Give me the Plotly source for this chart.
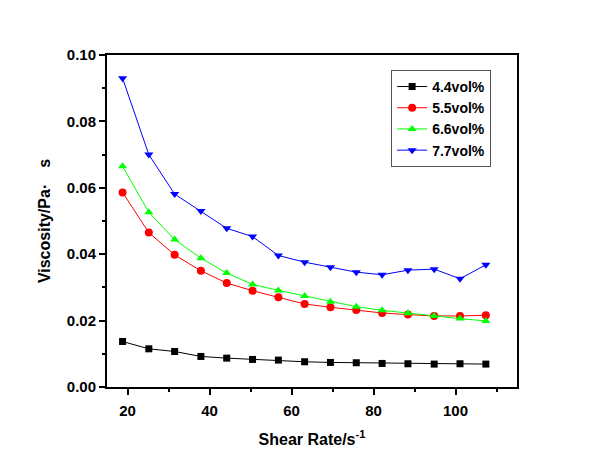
import plotly.graph_objects as go

shear_rate = [18.8, 25.2, 31.5, 37.9, 44.2, 50.5, 56.8, 63.2, 69.5, 75.8, 82.1, 88.4, 94.8, 101.1, 107.4]
v44 = [0.0137, 0.0115, 0.0107, 0.0092, 0.0087, 0.0083, 0.0081, 0.0076, 0.0074, 0.0073, 0.0071, 0.0070, 0.0069, 0.0070, 0.0069]
v55 = [0.0586, 0.0465, 0.0398, 0.0350, 0.0313, 0.0290, 0.0270, 0.0250, 0.0240, 0.0232, 0.0223, 0.0218, 0.0214, 0.0214, 0.0216]
v66 = [0.0665, 0.0526, 0.0444, 0.0388, 0.0343, 0.0309, 0.0291, 0.0274, 0.0257, 0.0242, 0.0231, 0.0222, 0.0214, 0.0206, 0.0199]
v77 = [0.0930, 0.0700, 0.0581, 0.0530, 0.0478, 0.0453, 0.0396, 0.0376, 0.0361, 0.0346, 0.0338, 0.0352, 0.0355, 0.0326, 0.0368]

series = [
    ("4.4vol%", v44, "black", "square"),
    ("5.5vol%", v55, "red", "circle"),
    ("6.6vol%", v66, "#00ff00", "triangle-up"),
    ("7.7vol%", v77, "blue", "triangle-down"),
]

font_family = "Arial, Liberation Sans, sans-serif"

fig = go.Figure()
for name, ys, color, sym in series:
    fig.add_trace(go.Scatter(
        x=shear_rate, y=ys, name=name, mode="lines+markers",
        line=dict(color=color, width=1),
        marker=dict(color=color, symbol=sym, size=8 if sym != "square" else 7),
    ))

axis_common = dict(
    showline=True, linecolor="black", linewidth=2, mirror=True,
    ticks="outside", tickcolor="black", tickwidth=2, ticklen=6,
    showgrid=False, zeroline=False,
    tickfont=dict(family=font_family, size=15, color="black", weight="bold"),
)

fig.update_layout(
    width=600, height=464,
    margin=dict(l=99, r=91, t=47, b=85),
    paper_bgcolor="white", plot_bgcolor="white",
    font=dict(family=font_family, color="black"),
    xaxis=dict(
        range=[15, 115], dtick=20, tick0=0, ticklabelstandoff=3,
        minor=dict(ticks="outside", dtick=10, tick0=0, ticklen=3, tickwidth=2, tickcolor="black"),
        title=dict(text="Shear Rate/s<sup>-1</sup>", font=dict(family=font_family, size=16, weight="bold"), standoff=16),
        **axis_common,
    ),
    yaxis=dict(
        range=[0, 0.1], dtick=0.02, tickformat=".2f",
        minor=dict(ticks="outside", dtick=0.01, ticklen=3, tickwidth=2, tickcolor="black"),
        title=dict(text="Viscosity/Pa·\u2003s", font=dict(family=font_family, size=16, weight="bold"), standoff=12),
        **axis_common,
    ),
    legend=dict(
        x=0.693, y=0.955, xanchor="left", yanchor="top",
        bgcolor="white", bordercolor="#555555", borderwidth=1,
        font=dict(family=font_family, size=14, color="black", weight="bold"),
        tracegroupgap=0,
    ),
)

fig.write_html("out.html")
